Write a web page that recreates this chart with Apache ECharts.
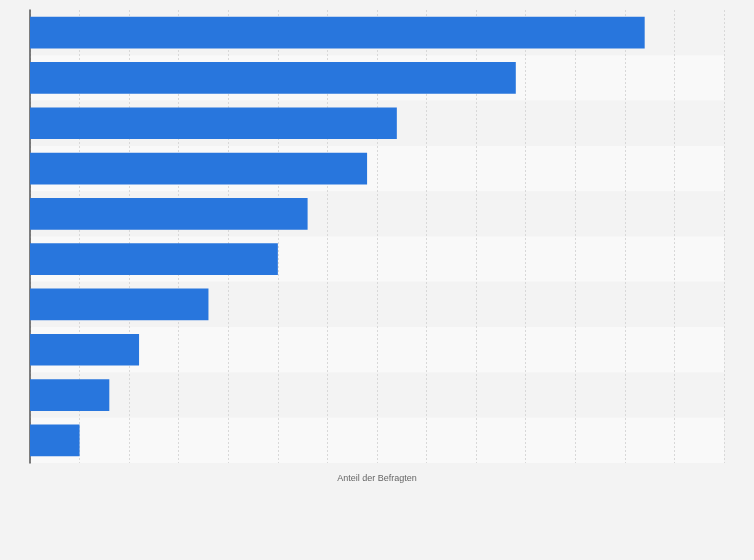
<!DOCTYPE html>
<html><head><meta charset="utf-8">
<script src="https://cdn.jsdelivr.net/npm/echarts@6/dist/echarts.min.js"></script>
<style>html,body{margin:0;padding:0;background:#f3f3f3}#c{width:754px;height:560px}</style>
</head><body><div id="c"></div>
<script>
const categories = ['A','B','C','D','E','F','G','H','I','J'];
const values = [12.4, 9.8, 7.4, 6.8, 5.6, 5.0, 3.6, 2.2, 1.6, 1.0];
const chart = echarts.init(document.getElementById('c'));
chart.setOption({
  backgroundColor: '#f3f3f3',
  animation: false,
  grid: {left: 30, right: 30, top: 10, bottom: 97, containLabel: false},
  xAxis: {
    type: 'value', min: 0, max: 14, interval: 1,
    name: 'Anteil der Befragten', nameLocation: 'middle', nameGap: 11,
    nameTextStyle: {color: '#666', fontSize: 9, fontFamily: 'Arial, Liberation Sans, sans-serif'},
    axisLabel: {show: false}, axisLine: {show: false}, axisTick: {show: false},
    splitLine: {show: true, lineStyle: {color: '#d8d8d8', type: [2, 2], width: 1}}
  },
  yAxis: {
    type: 'category', data: categories, inverse: true,
    axisLabel: {show: false}, axisTick: {show: false},
    axisLine: {show: true, lineStyle: {color: '#555', width: 1.5}},
    splitArea: {show: true, areaStyle: {color: ['#f3f3f3', '#f9f9f9']}}
  },
  series: [{
    type: 'bar', data: values, barCategoryGap: '30%',
    itemStyle: {color: '#2876dd'}
  }]
});
</script></body></html>
